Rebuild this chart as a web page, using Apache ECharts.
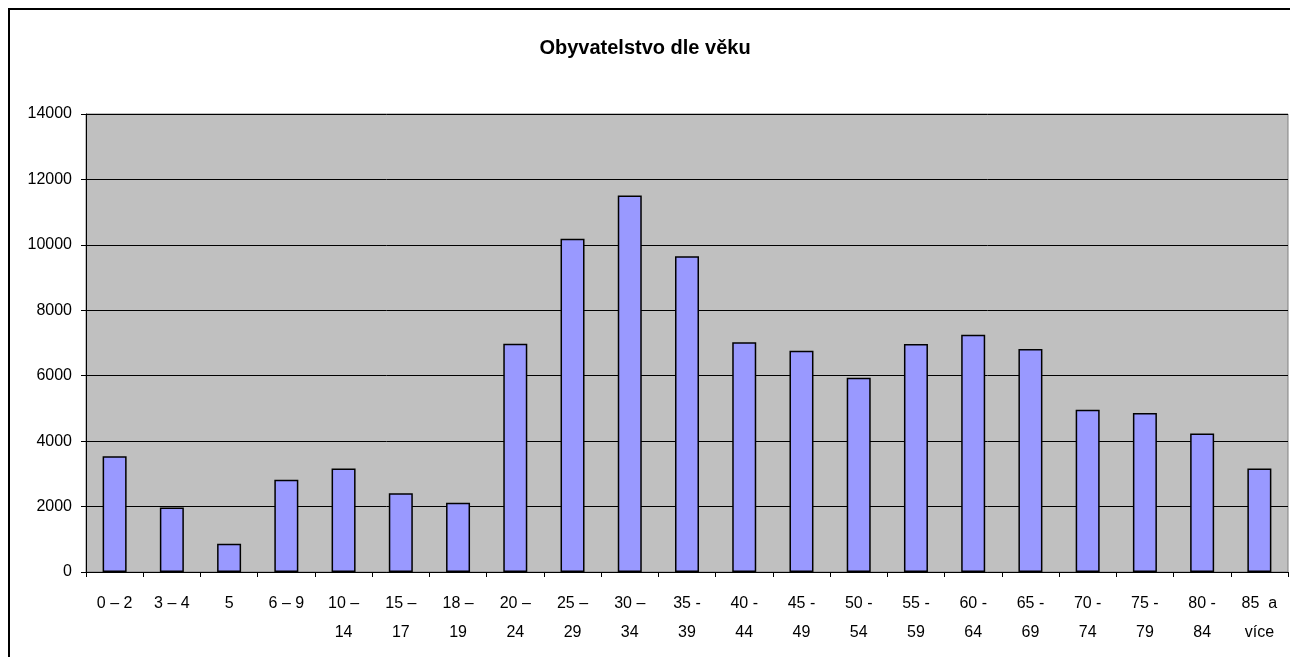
<!DOCTYPE html>
<html>
<head>
<meta charset="utf-8">
<title>Obyvatelstvo dle věku</title>
<script src="https://cdn.jsdelivr.net/npm/echarts@6/dist/echarts.min.js"></script>
<style>
  html, body { margin: 0; padding: 0; background: #fff; }
  #chart { width: 1290px; height: 657px; }
</style>
</head>
<body>
<div id="chart"></div>
<script>
  // age groups (label wraps onto two lines like the original)
  const categories = [
    '0 – 2', '3 – 4', '5', '6 – 9', '10 –\n14', '15 –\n17', '18 –\n19',
    '20 –\n24', '25 –\n29', '30 –\n34', '35 -\n39', '40 -\n44', '45 -\n49',
    '50 -\n54', '55 -\n59', '60 -\n64', '65 -\n69', '70 -\n74', '75 -\n79',
    '80 -\n84', '85  a\nvíce'
  ]
  const population = [
    3540, 1970, 860, 2820, 3160, 2410, 2120,
    6980, 10190, 11510, 9650, 7020, 6760,
    5940, 6970, 7250, 6820, 4960, 4860,
    4230, 3160
  ]
  const yTicks = { min: 0, max: 14000, interval: 2000 }

  const font = 'Liberation Sans, Arial, sans-serif'
  const chart = echarts.init(document.getElementById('chart'))

  const option = {
    animation: false,
    backgroundColor: '#fff',
    title: {
      text: 'Obyvatelstvo dle věku',
      left: 'center',
      top: 33,
      textStyle: { fontFamily: font, fontSize: 20, fontWeight: 'bold', color: '#000' }
    },
    graphic: [{
      // outer chart frame (only left + top edges are inside the picture)
      type: 'rect',
      shape: { x: 9, y: 9, width: 1300, height: 700 },
      style: { fill: 'none', stroke: '#000', lineWidth: 2 },
      silent: true
    }],
    grid: {
      left: 86,
      top: 114,
      right: 2,
      bottom: 85,
      show: true,
      backgroundColor: '#C0C0C0',
      borderColor: '#808080',
      borderWidth: 1
    },
    xAxis: {
      type: 'category',
      data: categories,
      axisLine: { lineStyle: { color: '#000', width: 1 } },
      axisTick: { show: true, alignWithLabel: false, length: 5, lineStyle: { color: '#000' } },
      axisLabel: {
        interval: 0,
        margin: 17,
        color: '#000',
        fontFamily: font,
        fontSize: 16,
        lineHeight: 29
      }
    },
    yAxis: {
      type: 'value',
      min: yTicks.min,
      max: yTicks.max,
      interval: yTicks.interval,
      axisLine: { show: true, lineStyle: { color: '#000', width: 1 } },
      axisTick: { show: true, length: 5, lineStyle: { color: '#000' } },
      axisLabel: {
        margin: 14,
        color: '#000',
        fontFamily: font,
        fontSize: 16,
        formatter: v => String(v)
      },
      splitLine: { show: true, lineStyle: { color: '#000', width: 1 } }
    },
    series: [{
      type: 'bar',
      data: population,
      barWidth: 24,
      itemStyle: { color: '#9999FF', borderColor: '#000', borderWidth: 1.5 }
    }]
  }

  chart.setOption(option)
</script>
</body>
</html>
